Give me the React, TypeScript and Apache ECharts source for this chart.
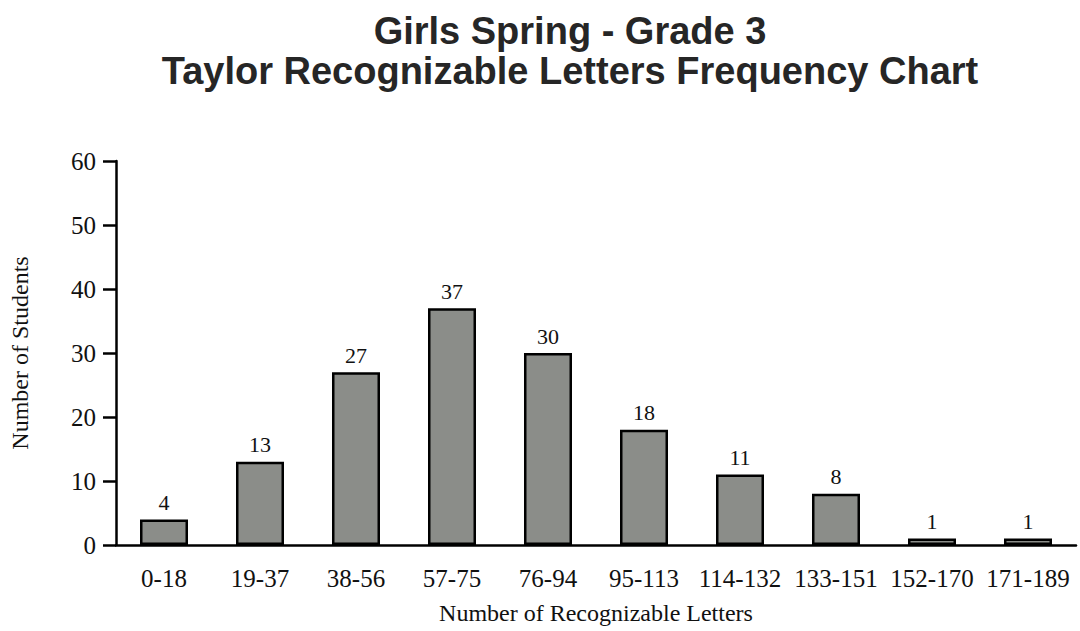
import React, { useEffect, useRef } from "react";
import * as echarts from "echarts";

const categories = ["0-18", "19-37", "38-56", "57-75", "76-94", "95-113", "114-132", "133-151", "152-170", "171-189"];
const counts = [4, 13, 27, 37, 30, 18, 11, 8, 1, 1];
const titleLines = ["Girls Spring - Grade 3", "Taylor Recognizable Letters Frequency Chart"];
const xAxisName = "Number of Recognizable Letters";
const yAxisName = "Number of Students";

const serif = "'Liberation Serif', 'DejaVu Serif', serif";
const sans = "'Liberation Sans', Arial, sans-serif";

export default function App() {
  const ref = useRef<HTMLDivElement>(null);
  useEffect(() => {
    if (!ref.current) return;
    const chart = echarts.init(ref.current, undefined, { renderer: "svg" });
    chart.setOption({
      animation: false,
      backgroundColor: "#ffffff",
      title: {
        text: titleLines.join("\n"),
        left: 565,
        top: 6,
        textAlign: "center",
        textStyle: { fontFamily: sans, fontWeight: "bold", fontSize: 38, lineHeight: 40, color: "#262626" },
      },
      grid: { left: 116, right: 4, top: 161, bottom: 86, outerBoundsMode: "none", containLabel: false },
      xAxis: {
        type: "category",
        data: categories,
        name: xAxisName,
        nameLocation: "middle",
        nameGap: 56,
        nameTextStyle: { fontFamily: serif, fontSize: 24, color: "#111" },
        axisLine: { lineStyle: { color: "#000", width: 2.5 } },
        axisTick: { alignWithLabel: true, length: 14, lineStyle: { color: "#000", width: 2.5 } },
        axisLabel: { fontFamily: serif, fontSize: 25, color: "#111", margin: 21, interval: 0 },
      },
      yAxis: {
        type: "value",
        min: 0,
        max: 60,
        interval: 10,
        name: yAxisName,
        nameLocation: "middle",
        nameGap: 84,
        nameRotate: 90,
        nameTextStyle: { fontFamily: serif, fontSize: 24, color: "#111" },
        axisLine: { show: true, lineStyle: { color: "#000", width: 2.5 } },
        axisTick: { show: true, length: 13, lineStyle: { color: "#000", width: 2.5 } },
        axisLabel: { fontFamily: serif, fontSize: 25, color: "#111", margin: 20 },
        splitLine: { show: false },
      },
      series: [
        {
          type: "bar",
          data: counts,
          barWidth: "50%",
          itemStyle: { color: "#8b8d89", borderColor: "#000", borderWidth: 2.5 },
          label: { show: true, position: "top", distance: 6, fontFamily: serif, fontSize: 22, color: "#111" },
        },
      ],
    });
    return () => chart.dispose();
  }, []);
  return <div ref={ref} style={{ width: 1080, height: 631, position: "absolute", left: 0, top: 0 }} />;
}
